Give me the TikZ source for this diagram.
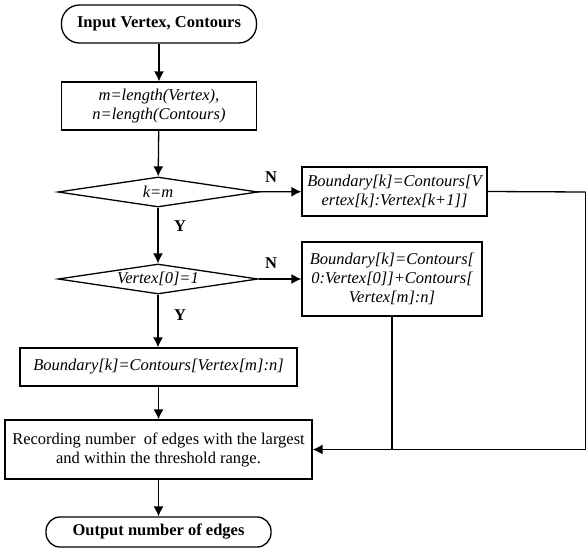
\documentclass[tikz,border=0pt]{standalone}
\usepackage{fontspec}
\setmainfont{Liberation Serif}
\usepackage{tikz}
\usetikzlibrary{positioning, calc, shapes.geometric, arrows.meta}

\begin{document}
\begin{tikzpicture}[x=1pt, y=-1pt, line width=1.3pt,
    font=\fontsize{16.5}{19}\selectfont,
    term/.style={draw, rounded corners=14pt, minimum height=30pt, inner sep=0pt, font=\fontsize{16.5}{19}\selectfont\bfseries},
    proc/.style={draw, align=center, inner sep=0pt},
    dec/.style={draw, diamond, aspect=6, inner sep=0pt, minimum width=200pt, minimum height=30pt},
    flow/.style={-{Latex[length=10pt,width=10pt]}},
    yn/.style={font=\fontsize{16.5}{19}\selectfont\bfseries}]
    \useasboundingbox (0,0) rectangle (586,549);
    \node[term, minimum width=195pt, minimum height=38pt, rounded corners=18pt] (start) at (159,24) {Input Vertex, Contours};
    \node[proc, minimum width=195pt, minimum height=48pt] (init) at (159,106) {\itshape m=length(Vertex),\\ \itshape n=length(Contours)};
    \node[dec] (km) at (158,192) {\itshape k=m};
    \node[proc, minimum width=185pt, minimum height=49pt] (seg) at (394.5,191.5) {\itshape Boundary[k]=Contours[V\\ \itshape ertex[k]:Vertex[k+1]]};
    \node[dec] (v0) at (158,279) {\itshape Vertex[0]=1};
    \node[proc, minimum width=180pt, minimum height=74pt] (wrap) at (392,279) {\itshape Boundary[k]=Contours[\\ \itshape 0:Vertex[0]]+Contours[\\ \itshape Vertex[m]:n]};
    \node[proc, minimum width=277pt, minimum height=38pt] (tail) at (158.5,367) {\itshape Boundary[k]=Contours[Vertex[m]:n]};
    \node[proc, minimum width=307pt, minimum height=59pt] (rec) at (158.5,449.5) {Recording number\ \ of edges with the largest\\ and within the threshold range.};
    \node[term, minimum width=225pt] (stop) at (158.5,532) {Output number of edges};
    \coordinate (edge) at (585.5,192);

    \draw[flow] (start) -- (init);
    \draw[flow] (init) -- (km);
    \draw[flow] (km) -- (seg);
    \draw[flow] (km) -- (v0);
    \draw[flow] (v0) -- (wrap);
    \draw[flow] (v0) -- (v0 |- tail.north);
    \draw[flow] (tail) -- (rec);
    \draw[flow] (rec) -- (stop);
    \draw (seg.east) -- (edge);
    \draw[flow] (edge) |- (rec.east);
    \draw (wrap.south) -- (wrap.south |- rec.east);

    \node[yn] (n1) at (271,177) {N};
    \node[yn] (n2) at (271,263) {N};
    \node[yn] (y1) at (180,226) {Y};
    \node[yn] (y2) at (180,315) {Y};
\end{tikzpicture}
\end{document}
